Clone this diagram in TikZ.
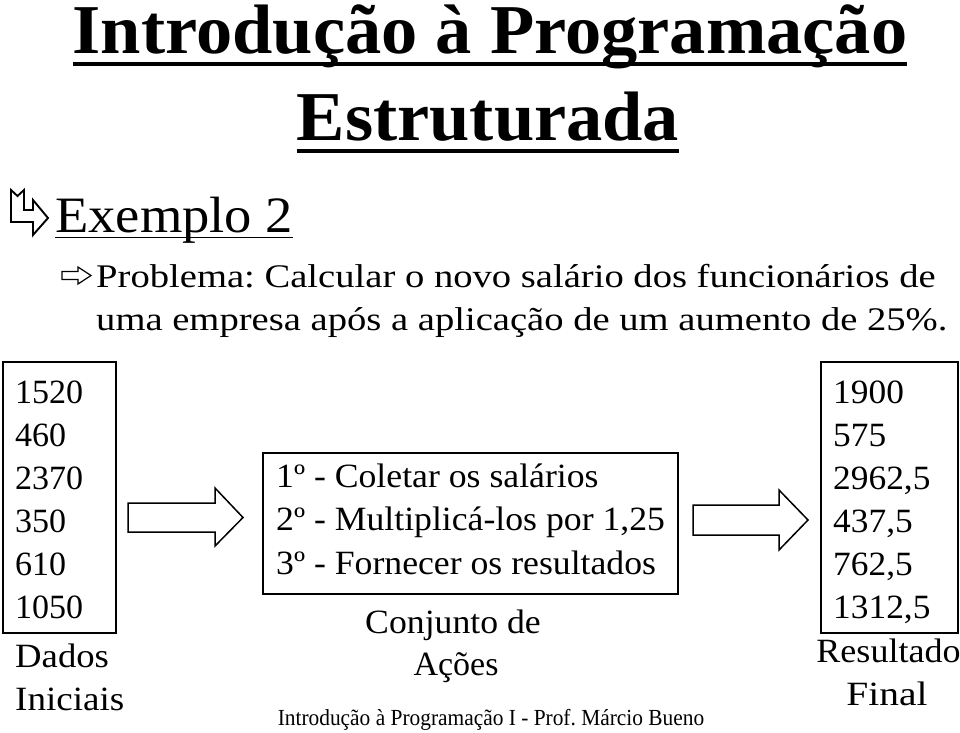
\documentclass[tikz,border=0pt]{standalone}
\usepackage{fontspec}
\setmainfont{Liberation Serif}
\newcommand{\fstr}[1]{\addfontfeature{FakeStretch=#1}}
\begin{document}
\frenchspacing
\begin{tikzpicture}[x=1pt,y=-1pt,
  txt/.style={inner sep=0pt,anchor=base west},
  ctxt/.style={inner sep=0pt,anchor=base},
  boxline/.style={draw=black,line width=2pt},
  blockarrow/.style={draw=black,line width=1.5pt,fill=white,line join=miter},
  num/.style={txt,font=\fontsize{34}{34}\selectfont},
  cnum/.style={ctxt,font=\fontsize{34}{34}\selectfont},
  body/.style={font=\fontsize{33}{33}\selectfont\fstr{1.17}}]
\useasboundingbox[fill=white] (0,0) rectangle (960,732);
% title
\node[ctxt,font=\fontsize{70}{70}\selectfont\bfseries\fstr{1.035}] (t1) at (490,53) {Introdução à Programação};
\node[ctxt,font=\fontsize{70}{70}\selectfont\bfseries\fstr{1.035}] (t2) at (488,140) {Estruturada};
\draw[line width=4.5pt] ([yshift=-11pt]t1.base west) -- ([yshift=-11pt]t1.base east);
\draw[line width=4.5pt] ([yshift=-11pt]t2.base west) -- ([yshift=-11pt]t2.base east);
% exemplo
\draw[line width=1.9pt,line join=miter] (11,190) -- (17.5,196) -- (24,190) -- (24,210) -- (33,210) -- (33,200) -- (48,218) -- (33,235) -- (33,222) -- (11,222) -- cycle;
\node[txt,font=\fontsize{51}{51}\selectfont\fstr{1.07}] (ex) at (55,232) {Exemplo 2};
\draw[line width=1.6pt] ([yshift=-5.5pt]ex.base west) -- ([yshift=-5.5pt]ex.base east);
% problema
\draw[line width=1.2pt,line join=miter] (62,271.5) -- (78,271.5) -- (78,267) -- (91,275.5) -- (78,284) -- (78,279.5) -- (62,279.5) -- cycle;
\node[txt,body] (p1) at (96,287) {Problema: Calcular o novo salário dos funcionários de};
\node[txt,body] (p2) at (96,330) {uma empresa após a aplicação de um aumento de 25\%.};
% left box
\node[boxline,minimum width=113pt,minimum height=271pt,inner sep=0pt] (dados) at (59.5,497.5) {};
\foreach \v [count=\i from 0] in {1520,460,2370,350,610,1050}
  \node[num] (d\i) at (15,403+43*\i) {\v};
\node[num,font=\fontsize{34}{34}\selectfont\fstr{1.08}] (dl1) at (15,667) {Dados};
\node[num,font=\fontsize{34}{34}\selectfont\fstr{1.09}] (dl2) at (15,710) {Iniciais};
% middle box
\node[boxline,minimum width=415pt,minimum height=141pt,inner sep=0pt] (acoes) at (470.5,523.5) {};
\node[num,font=\fontsize{34}{34}\selectfont\fstr{1.05}] (a1) at (276,487) {1º - Coletar os salários};
\node[num,font=\fontsize{34}{34}\selectfont\fstr{1.05}] (a2) at (276,530) {2º - Multiplicá-los por 1,25};
\node[num,font=\fontsize{34}{34}\selectfont\fstr{1.05}] (a3) at (276,574) {3º - Fornecer os resultados};
\node[cnum,font=\fontsize{34}{34}\selectfont\fstr{1.05}] (al1) at (453,633) {Conjunto de};
\node[cnum] (al2) at (456,675) {Ações};
% right box
\node[boxline,minimum width=137pt,minimum height=271pt,inner sep=0pt] (res) at (889.5,497.5) {};
\foreach \v [count=\i from 0] in {1900,575,{2962,5},{437,5},{762,5},{1312,5}}
  \node[num,font=\fontsize{34}{34}\selectfont\fstr{1.04}] (r\i) at (833,403+43*\i) {\v};
\node[cnum,font=\fontsize{34}{34}\selectfont\fstr{1.06}] (rl1) at (888.5,662) {Resultado};
\node[cnum,font=\fontsize{34}{34}\selectfont\fstr{1.16}] (rl2) at (887,705) {Final};
% block arrows
\draw[blockarrow] (128,503) -- (215,503) -- (215,488) -- (243,517.5) -- (215,546) -- (215,532) -- (128,532) -- cycle;
\draw[blockarrow] (693,505) -- (779,505) -- (779,490) -- (808,520) -- (779,550) -- (779,535) -- (693,535) -- cycle;
% footer
\node[ctxt,font=\fontsize{23}{23}\selectfont\fstr{0.93}] (foot) at (491,725) {Introdução à Programação I - Prof. Márcio Bueno};
\end{tikzpicture}
\end{document}
